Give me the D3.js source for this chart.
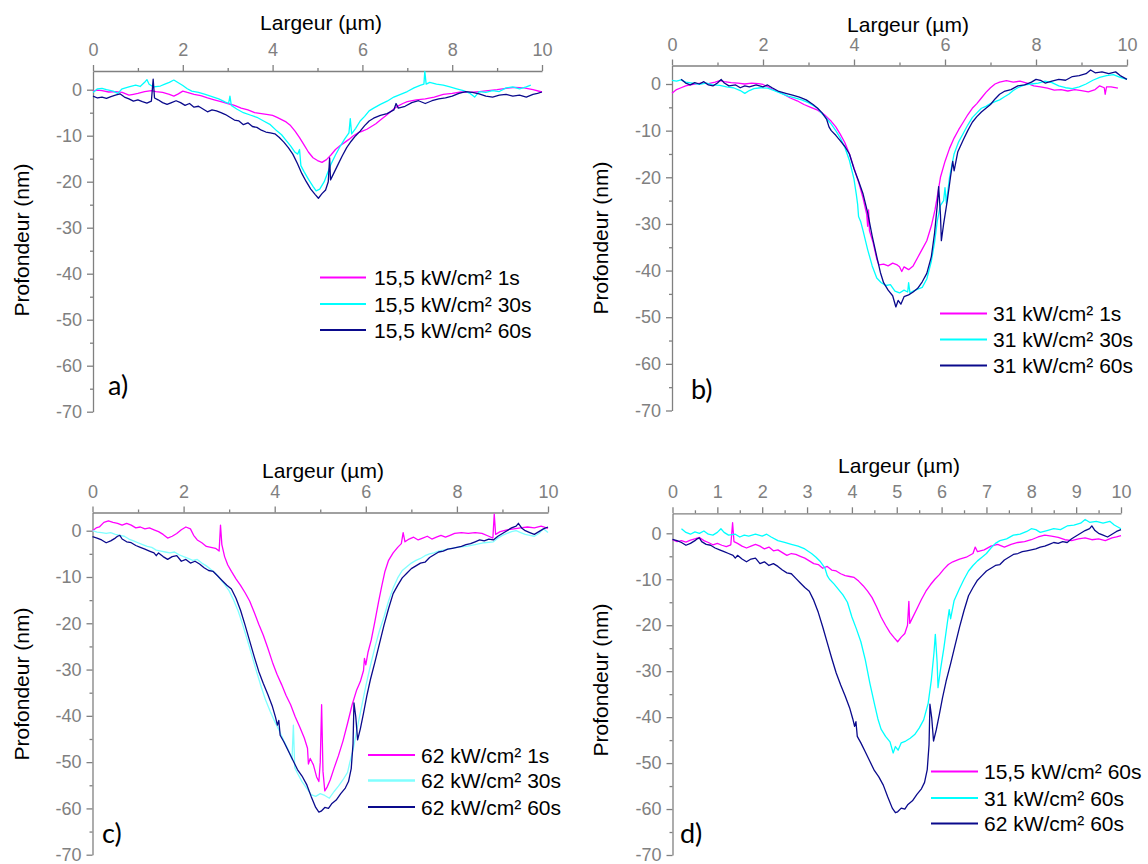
<!DOCTYPE html>
<html><head><meta charset="utf-8">
<script src="https://cdn.jsdelivr.net/npm/d3@7"></script>
<style>body{margin:0;background:#fff} svg{display:block}</style>
</head><body>
<svg id="chart" width="1148" height="864"></svg>
<script>
// ---------- DATA (x in µm, depth in nm) ----------
const xTicksCoarse = [0, 2, 4, 6, 8, 10];
const xMinorCoarse = [1, 3, 5, 7, 9];
const xTicksFine = [0, 1, 2, 3, 4, 5, 6, 7, 8, 9, 10];
const xMinorFine = [0.5, 1.5, 2.5, 3.5, 4.5, 5.5, 6.5, 7.5, 8.5, 9.5];
const yTicks = [0, -10, -20, -30, -40, -50, -60, -70];
const yMinor = [-5, -15, -25, -35, -45, -55, -65];

const labelsA = ["15,5 kW/cm² 1s", "15,5 kW/cm² 30s", "15,5 kW/cm² 60s"];
const labelsB = ["31 kW/cm² 1s", "31 kW/cm² 30s", "31 kW/cm² 60s"];
const labelsC = ["62 kW/cm² 1s", "62 kW/cm² 30s", "62 kW/cm² 60s"];
const labelsD = ["15,5 kW/cm² 60s", "31 kW/cm² 60s", "62 kW/cm² 60s"];

const a_1s = [[0,-0.3],[0.1,-0.1],[0.2,-0.2],[0.35,-0.5],[0.5,-0.4],[0.65,-0.6],[0.8,-1.2],[0.9,-1.0],[1.0,-0.8],[1.15,-0.4],[1.3,-0.2],[1.4,-0.4],[1.55,-0.6],[1.7,-1.0],[1.8,-1.4],[1.9,-0.9],[2.0,-0.3],[2.1,-0.6],[2.25,-1.0],[2.4,-1.3],[2.55,-1.8],[2.7,-2.2],[2.85,-2.6],[3.0,-3.0],[3.15,-3.4],[3.3,-4.0],[3.45,-4.4],[3.6,-5.0],[3.75,-5.2],[3.9,-5.4],[4.0,-5.6],[4.1,-6.0],[4.2,-6.5],[4.3,-7.0],[4.4,-7.8],[4.5,-9.0],[4.6,-10.4],[4.7,-12.0],[4.8,-13.6],[4.9,-14.8],[5.0,-15.4],[5.1,-15.8],[5.2,-15.2],[5.3,-14.2],[5.4,-13.0],[5.5,-12.2],[5.6,-11.5],[5.7,-10.8],[5.8,-10.0],[5.9,-9.4],[6.0,-9.0],[6.1,-8.6],[6.2,-8.0],[6.3,-7.4],[6.4,-6.6],[6.5,-5.8],[6.6,-5.0],[6.7,-4.2],[6.8,-3.5],[6.9,-3.0],[7.0,-2.6],[7.2,-2.2],[7.4,-2.0],[7.6,-1.6],[7.8,-1.0],[8.0,-0.8],[8.2,-0.5],[8.4,-0.6],[8.6,-0.4],[8.8,-0.2],[9.0,0.0],[9.2,0.3],[9.4,0.5],[9.6,0.4],[9.8,0.0],[10,-0.5]];
const a_30s = [[0,-0.6],[0.1,0.2],[0.2,0.3],[0.3,0.0],[0.45,-0.3],[0.55,-0.8],[0.65,0.2],[0.8,0.6],[0.95,1.0],[1.05,0.7],[1.15,1.6],[1.2,2.2],[1.25,1.2],[1.35,0.6],[1.5,0.8],[1.6,1.2],[1.7,1.6],[1.8,2.1],[1.9,1.5],[2.0,0.9],[2.1,0.2],[2.2,-0.3],[2.35,-0.6],[2.5,-1.0],[2.65,-1.5],[2.8,-2.0],[2.95,-2.7],[3.02,-3.0],[3.05,-1.4],[3.08,-3.4],[3.2,-4.2],[3.35,-5.0],[3.5,-5.5],[3.65,-6.0],[3.8,-6.8],[3.95,-7.6],[4.1,-9.0],[4.2,-9.8],[4.3,-11.0],[4.4,-12.2],[4.5,-13.6],[4.56,-14.0],[4.6,-13.0],[4.63,-16.5],[4.7,-17.8],[4.8,-19.5],[4.9,-21.0],[4.97,-22.0],[5.05,-21.6],[5.15,-20.0],[5.22,-18.2],[5.3,-16.2],[5.4,-14.2],[5.5,-12.4],[5.6,-10.8],[5.7,-9.4],[5.73,-6.3],[5.76,-9.6],[5.85,-8.4],[5.95,-6.8],[6.05,-5.8],[6.15,-4.6],[6.25,-4.0],[6.4,-3.2],[6.55,-2.5],[6.7,-1.6],[6.85,-1.0],[7.0,-0.4],[7.15,0.4],[7.3,1.0],[7.37,1.2],[7.39,4.0],[7.42,1.2],[7.5,1.6],[7.65,1.2],[7.8,1.0],[7.95,0.6],[8.1,0.2],[8.25,-0.2],[8.4,-0.8],[8.5,-1.6],[8.6,-0.4],[8.75,-0.6],[8.9,-0.2],[9.05,-0.4],[9.2,0.4],[9.35,0.6],[9.5,0.2],[9.65,0.6],[9.75,1.0]];
const a_60s = [[0,-1.4],[0.1,-1.8],[0.2,-1.6],[0.3,-1.9],[0.4,-1.5],[0.5,-1.2],[0.6,-0.9],[0.7,-1.6],[0.8,-2.0],[0.9,-2.5],[1.0,-2.2],[1.1,-2.6],[1.2,-2.9],[1.3,-2.5],[1.34,2.3],[1.37,-1.8],[1.45,-2.2],[1.55,-2.8],[1.65,-3.2],[1.75,-2.8],[1.85,-2.4],[1.95,-2.8],[2.05,-3.4],[2.15,-3.0],[2.25,-3.8],[2.35,-3.6],[2.45,-4.2],[2.55,-4.8],[2.65,-4.4],[2.75,-4.6],[2.85,-5.0],[2.95,-5.4],[3.05,-6.0],[3.15,-6.6],[3.25,-6.8],[3.35,-7.6],[3.45,-7.2],[3.55,-8.0],[3.65,-8.2],[3.75,-8.8],[3.85,-9.2],[3.95,-9.4],[4.05,-9.6],[4.15,-10.4],[4.25,-11.4],[4.35,-12.6],[4.45,-14.0],[4.55,-16.0],[4.65,-18.2],[4.75,-20.0],[4.85,-21.6],[4.95,-22.8],[5.02,-23.6],[5.1,-22.6],[5.18,-21.8],[5.24,-20.0],[5.27,-14.8],[5.29,-19.6],[5.35,-18.4],[5.45,-16.4],[5.55,-14.4],[5.65,-12.6],[5.75,-11.2],[5.85,-10.0],[5.95,-9.0],[6.05,-7.8],[6.15,-6.8],[6.25,-6.2],[6.4,-5.6],[6.55,-5.2],[6.7,-4.4],[6.75,-3.0],[6.8,-4.0],[6.95,-3.6],[7.1,-2.8],[7.25,-2.4],[7.4,-3.0],[7.55,-2.4],[7.7,-2.0],[7.85,-1.8],[8.0,-1.4],[8.15,-0.8],[8.3,-0.4],[8.45,-0.6],[8.6,-0.9],[8.75,-1.4],[8.9,-1.6],[9.05,-1.2],[9.2,-1.0],[9.35,-1.4],[9.5,-1.2],[9.65,-1.6],[9.8,-1.0],[9.9,-0.8],[10,-0.5]];

const b_1s = [[0,-2.0],[0.1,-1.2],[0.2,-0.8],[0.3,-0.4],[0.4,-0.2],[0.5,0.0],[0.65,0.2],[0.8,0.1],[0.95,0.4],[1.05,0.7],[1.15,0.5],[1.3,0.3],[1.45,0.2],[1.6,0.0],[1.75,0.2],[1.9,0.1],[2.0,-0.1],[2.15,-0.8],[2.3,-1.5],[2.45,-2.2],[2.6,-3.0],[2.75,-3.6],[2.9,-4.4],[3.05,-5.0],[3.2,-5.6],[3.35,-6.6],[3.5,-8.0],[3.6,-9.2],[3.7,-10.8],[3.8,-12.6],[3.9,-15.0],[4.0,-18.0],[4.1,-21.0],[4.2,-24.5],[4.28,-28.0],[4.3,-30.5],[4.32,-27.0],[4.34,-31.5],[4.42,-34.0],[4.5,-37.5],[4.55,-38.8],[4.65,-38.6],[4.75,-39.0],[4.85,-38.4],[4.95,-38.8],[5.0,-39.2],[5.05,-40.2],[5.1,-39.2],[5.2,-39.8],[5.3,-39.0],[5.4,-37.2],[5.5,-35.4],[5.6,-33.6],[5.7,-30.4],[5.78,-27.0],[5.85,-23.0],[5.9,-20.0],[6.0,-16.6],[6.1,-13.8],[6.2,-11.6],[6.3,-9.8],[6.4,-8.2],[6.5,-6.6],[6.6,-5.2],[6.7,-4.2],[6.8,-3.0],[6.9,-1.8],[7.0,-0.8],[7.1,0.0],[7.2,0.4],[7.35,0.7],[7.5,0.4],[7.65,0.6],[7.8,0.2],[7.95,-0.4],[8.1,-0.6],[8.25,-0.9],[8.4,-1.3],[8.55,-1.2],[8.7,-1.5],[8.85,-1.2],[9.0,-1.4],[9.15,-1.7],[9.3,-1.2],[9.4,-0.4],[9.5,-0.8],[9.52,-2.2],[9.55,-0.6],[9.65,-0.6],[9.8,-0.9]];
const b_30s = [[0,0.8],[0.1,0.6],[0.2,0.9],[0.3,0.4],[0.45,0.2],[0.6,-0.1],[0.75,0.2],[0.9,-0.2],[1.05,-0.3],[1.2,-0.6],[1.35,-0.8],[1.5,-1.4],[1.6,-2.0],[1.7,-1.4],[1.8,-1.0],[1.95,-0.8],[2.1,-0.9],[2.25,-1.4],[2.4,-2.0],[2.55,-2.6],[2.7,-3.0],[2.85,-3.4],[3.0,-4.0],[3.1,-4.6],[3.2,-5.2],[3.3,-6.4],[3.4,-7.4],[3.5,-8.6],[3.6,-10.0],[3.7,-11.6],[3.8,-13.6],[3.9,-16.4],[4.0,-20.4],[4.05,-23.6],[4.08,-25.8],[4.1,-28.4],[4.15,-29.6],[4.2,-31.5],[4.3,-35.5],[4.4,-39.0],[4.5,-41.6],[4.6,-42.6],[4.7,-43.2],[4.8,-43.0],[4.9,-44.4],[5.0,-44.8],[5.1,-44.2],[5.18,-44.6],[5.2,-42.6],[5.23,-44.8],[5.3,-44.4],[5.4,-44.0],[5.5,-43.6],[5.6,-41.8],[5.7,-38.0],[5.77,-34.0],[5.83,-29.4],[5.9,-26.0],[5.97,-25.0],[6.0,-22.2],[6.03,-25.6],[6.1,-20.0],[6.2,-15.0],[6.3,-12.4],[6.4,-10.6],[6.5,-8.8],[6.6,-7.2],[6.7,-6.2],[6.8,-5.2],[6.9,-4.8],[7.0,-4.2],[7.1,-3.8],[7.2,-3.4],[7.3,-2.8],[7.4,-2.2],[7.5,-1.4],[7.6,-0.8],[7.75,-0.2],[7.9,0.0],[8.05,0.2],[8.2,0.6],[8.35,0.3],[8.5,-0.4],[8.65,-0.8],[8.8,-1.0],[8.95,-0.6],[9.1,0.0],[9.25,0.8],[9.4,1.4],[9.55,1.8],[9.7,2.0],[9.85,1.4],[10,1.0]];
const b_60s = [[0.2,1.0],[0.3,0.2],[0.4,-0.2],[0.5,0.3],[0.6,0.0],[0.7,0.5],[0.8,-0.2],[0.9,-0.4],[1.0,0.2],[1.08,1.0],[1.15,0.2],[1.25,-0.4],[1.4,-0.2],[1.5,-0.8],[1.6,-0.4],[1.7,-0.6],[1.85,-0.2],[2.0,-0.6],[2.1,-0.2],[2.2,-0.8],[2.35,-1.6],[2.5,-2.0],[2.65,-2.4],[2.8,-2.8],[2.95,-3.4],[3.1,-4.4],[3.2,-5.2],[3.3,-6.2],[3.4,-7.6],[3.45,-9.2],[3.5,-10.0],[3.6,-11.0],[3.7,-12.2],[3.8,-13.4],[3.9,-15.0],[4.0,-18.2],[4.1,-20.8],[4.2,-23.6],[4.3,-27.6],[4.4,-32.6],[4.5,-37.0],[4.58,-40.4],[4.65,-42.6],[4.75,-44.2],[4.85,-45.4],[4.92,-47.8],[4.97,-46.4],[5.03,-47.2],[5.1,-45.6],[5.2,-45.2],[5.3,-44.6],[5.4,-43.8],[5.5,-42.4],[5.6,-40.6],[5.7,-37.0],[5.77,-32.0],[5.83,-26.0],[5.86,-22.0],[5.9,-28.0],[5.92,-33.6],[5.97,-30.0],[6.05,-25.0],[6.12,-20.0],[6.17,-16.6],[6.2,-18.6],[6.28,-14.6],[6.4,-12.0],[6.5,-10.0],[6.6,-8.2],[6.7,-7.0],[6.8,-6.0],[6.9,-5.2],[7.0,-4.4],[7.1,-3.2],[7.2,-2.2],[7.3,-1.6],[7.45,-1.2],[7.6,-0.4],[7.75,-0.2],[7.9,0.4],[8.0,1.0],[8.1,0.8],[8.2,0.2],[8.35,0.6],[8.5,1.0],[8.65,0.8],[8.8,1.6],[8.95,1.8],[9.1,2.2],[9.2,3.0],[9.3,2.4],[9.45,2.6],[9.6,2.2],[9.75,2.6],[9.85,1.8],[10,1.0]];

const c_1s = [[0,0.0],[0.08,0.6],[0.15,0.8],[0.25,1.8],[0.35,2.1],[0.45,1.8],[0.55,1.6],[0.65,1.2],[0.75,1.6],[0.85,1.2],[0.95,0.6],[1.05,0.8],[1.15,0.4],[1.25,0.6],[1.35,0.2],[1.45,-0.2],[1.55,-0.8],[1.65,-1.6],[1.75,-1.2],[1.85,-0.6],[1.95,0.2],[2.05,0.8],[2.15,0.4],[2.22,-1.0],[2.3,-2.0],[2.4,-2.6],[2.5,-3.4],[2.6,-3.6],[2.7,-3.8],[2.78,-4.4],[2.81,1.2],[2.84,-3.0],[2.9,-5.6],[2.97,-7.4],[3.05,-8.8],[3.15,-10.4],[3.25,-11.8],[3.35,-13.4],[3.45,-15.2],[3.55,-17.6],[3.65,-20.2],[3.75,-22.6],[3.85,-25.4],[3.95,-28.4],[4.05,-31.0],[4.15,-33.2],[4.25,-35.6],[4.35,-37.6],[4.45,-40.2],[4.55,-42.4],[4.65,-44.8],[4.72,-47.0],[4.74,-50.4],[4.78,-49.2],[4.85,-50.6],[4.92,-53.2],[4.97,-54.2],[5.0,-50.0],[5.03,-37.6],[5.06,-52.0],[5.1,-56.2],[5.15,-55.4],[5.22,-53.8],[5.3,-51.4],[5.4,-48.6],[5.5,-45.4],[5.6,-41.6],[5.7,-37.6],[5.8,-34.4],[5.88,-32.6],[5.95,-30.2],[5.97,-27.6],[6.0,-29.0],[6.05,-26.2],[6.12,-23.6],[6.2,-19.6],[6.28,-15.4],[6.35,-12.0],[6.42,-8.8],[6.5,-6.4],[6.6,-4.8],[6.7,-3.6],[6.78,-2.8],[6.82,-0.4],[6.86,-2.4],[6.95,-1.8],[7.05,-1.4],[7.15,-2.0],[7.25,-1.6],[7.35,-1.2],[7.45,-1.8],[7.55,-1.4],[7.65,-1.0],[7.75,-1.4],[7.85,-1.0],[7.95,-0.6],[8.1,-0.4],[8.25,-0.6],[8.4,-0.4],[8.55,-0.6],[8.7,-1.2],[8.79,-1.6],[8.82,3.6],[8.85,-0.8],[8.95,-0.2],[9.1,0.2],[9.25,0.4],[9.4,0.6],[9.55,0.8],[9.7,0.6],[9.85,1.0],[10,0.5]];
const c_30s = [[0,0.0],[0.1,-0.3],[0.2,-0.4],[0.3,-0.6],[0.4,-0.4],[0.5,-0.8],[0.6,-1.0],[0.7,-1.2],[0.8,-1.8],[0.9,-2.2],[1.0,-2.6],[1.1,-3.0],[1.2,-3.4],[1.3,-3.6],[1.4,-4.2],[1.5,-4.4],[1.6,-4.6],[1.7,-4.8],[1.8,-4.6],[1.9,-5.2],[2.0,-5.6],[2.1,-6.0],[2.2,-6.4],[2.3,-6.2],[2.4,-7.0],[2.5,-7.6],[2.6,-8.4],[2.7,-9.2],[2.8,-10.4],[2.9,-11.6],[3.0,-13.0],[3.1,-15.0],[3.2,-17.4],[3.3,-20.4],[3.4,-23.6],[3.5,-27.0],[3.6,-30.4],[3.7,-33.6],[3.8,-36.6],[3.9,-39.0],[4.0,-41.2],[4.1,-43.2],[4.2,-45.4],[4.3,-47.4],[4.38,-49.4],[4.41,-42.0],[4.44,-51.2],[4.5,-52.4],[4.6,-54.2],[4.7,-55.6],[4.8,-57.0],[4.9,-57.4],[5.0,-56.8],[5.1,-57.2],[5.2,-57.8],[5.3,-56.4],[5.4,-55.2],[5.5,-53.8],[5.6,-52.2],[5.65,-50.0],[5.72,-47.4],[5.8,-43.2],[5.9,-38.4],[6.0,-33.6],[6.1,-29.2],[6.2,-25.2],[6.3,-21.6],[6.4,-18.6],[6.5,-15.2],[6.6,-12.4],[6.7,-10.2],[6.8,-8.6],[6.9,-7.8],[7.0,-7.0],[7.1,-6.4],[7.2,-6.0],[7.3,-5.4],[7.4,-5.0],[7.5,-4.8],[7.6,-4.4],[7.7,-4.2],[7.8,-4.0],[8.0,-3.6],[8.2,-3.4],[8.4,-3.0],[8.6,-2.6],[8.8,-2.4],[8.9,-1.6],[9.0,-1.0],[9.1,-0.6],[9.2,-0.2],[9.3,0.0],[9.4,-0.4],[9.5,-0.8],[9.6,-1.0],[9.7,-1.2],[9.8,-0.6],[9.9,0.4],[10,-0.4]];
const c_60s = [[0,-1.3],[0.1,-1.6],[0.2,-2.0],[0.3,-2.6],[0.4,-2.2],[0.5,-1.6],[0.55,-1.2],[0.6,-1.0],[0.65,-1.8],[0.75,-2.4],[0.85,-2.6],[0.95,-3.2],[1.05,-3.6],[1.15,-4.0],[1.25,-4.4],[1.35,-4.8],[1.4,-5.4],[1.45,-4.8],[1.55,-5.6],[1.65,-6.2],[1.75,-5.6],[1.85,-5.4],[1.95,-6.6],[2.05,-6.2],[2.15,-7.0],[2.25,-6.6],[2.35,-7.2],[2.45,-8.0],[2.55,-8.6],[2.65,-8.8],[2.75,-9.8],[2.85,-10.8],[2.95,-11.8],[3.05,-12.6],[3.15,-14.6],[3.25,-17.2],[3.35,-20.4],[3.45,-23.8],[3.55,-27.2],[3.65,-30.4],[3.75,-33.0],[3.85,-35.4],[3.95,-38.0],[4.02,-40.4],[4.06,-42.0],[4.09,-41.0],[4.12,-44.2],[4.2,-45.6],[4.3,-47.6],[4.4,-49.6],[4.5,-51.6],[4.6,-53.0],[4.7,-54.8],[4.8,-57.4],[4.9,-59.8],[4.97,-60.8],[5.02,-60.6],[5.1,-59.8],[5.18,-60.0],[5.25,-59.0],[5.35,-58.2],[5.45,-56.8],[5.55,-55.6],[5.62,-54.2],[5.68,-51.4],[5.72,-46.0],[5.74,-37.2],[5.78,-40.2],[5.82,-45.2],[5.88,-42.8],[5.95,-39.4],[6.02,-35.8],[6.1,-32.2],[6.2,-28.4],[6.3,-24.4],[6.4,-20.4],[6.5,-16.8],[6.6,-13.6],[6.7,-11.8],[6.8,-10.2],[6.9,-9.2],[7.0,-8.2],[7.1,-7.6],[7.2,-7.0],[7.3,-6.8],[7.4,-5.8],[7.5,-5.2],[7.6,-4.6],[7.7,-4.4],[7.8,-4.0],[7.9,-3.8],[8.0,-3.6],[8.1,-3.4],[8.2,-3.0],[8.3,-2.8],[8.4,-2.4],[8.5,-2.0],[8.6,-2.2],[8.7,-1.8],[8.8,-2.0],[8.9,-1.2],[9.0,-0.6],[9.1,0.0],[9.2,0.6],[9.3,1.0],[9.35,1.6],[9.42,0.6],[9.5,0.0],[9.6,-0.4],[9.7,-0.8],[9.8,-0.2],[9.9,0.4],[10,0.8]];

// ---------- LAYOUT ----------
const MAG = "#ff00ff", CYA = "#00ffff", LCY = "#80ffff", NAV = "#0a0a8c";
const panels = [
  {x0:93, x1:542, yTop:71, yZero:89.7, yBot:411.7, ticks:xTicksCoarse, minor:xMinorCoarse,
   series:[a_1s,a_30s,a_60s], colors:[MAG,CYA,NAV], labels:labelsA,
   leg:{lx0:320, lx1:366, tx:374, ys:[277.5,304,330]}, title:{x:321, y:30}, ylab:{x:22, y:240}, letter:{t:"a)", x:108, y:395}},
  {x0:672, x1:1127, yTop:65.5, yZero:84, yBot:410.5, ticks:xTicksCoarse, minor:xMinorCoarse,
   series:[b_1s,b_30s,b_60s], colors:[MAG,CYA,NAV], labels:labelsB,
   leg:{lx0:940, lx1:987, tx:993, ys:[313.5,339.5,365.5]}, title:{x:908, y:31.5}, ylab:{x:601, y:238}, letter:{t:"b)", x:691, y:399}},
  {x0:92.5, x1:548, yTop:512.5, yZero:530.7, yBot:854.7, ticks:xTicksCoarse, minor:xMinorCoarse,
   series:[c_1s,c_30s,c_60s], colors:[MAG,LCY,NAV], labels:labelsC,
   leg:{lx0:368, lx1:415, tx:421, ys:[755,780.5,807]}, title:{x:323, y:478}, ylab:{x:22, y:684}, letter:{t:"c)", x:102, y:843}},
  {x0:672.5, x1:1121, yTop:513.3, yZero:533.3, yBot:855, ticks:xTicksFine, minor:xMinorFine,
   series:[a_60s,b_60s,c_60s], colors:[MAG,CYA,NAV], labels:labelsD,
   leg:{lx0:931, lx1:978, tx:984, ys:[771.5,798,823.5]}, title:{x:899, y:473}, ylab:{x:601, y:680}, letter:{t:"d)", x:680, y:843}}
];

const svg = d3.select("#chart");
svg.append("rect").attr("width",1148).attr("height",864).attr("fill","#fff");
const AX = "#808080";
const FONT = "'Liberation Sans', Arial, sans-serif";

panels.forEach(p => {
  const g = svg.append("g");
  const x = d3.scaleLinear().domain([0,10]).range([p.x0, p.x1]);
  const pxPerNm = (p.yBot - p.yZero) / 70;
  const yMax = (p.yZero - p.yTop) / pxPerNm;
  const y = d3.scaleLinear().domain([-70, yMax]).range([p.yBot, p.yTop]);

  // top x axis (major + minor)
  const xa = g.append("g").attr("transform",`translate(0,${p.yTop})`)
    .call(d3.axisTop(x).tickValues(p.ticks).tickSize(6).tickSizeOuter(0).tickPadding(9).tickFormat(d3.format("d")));
  g.append("g").attr("transform",`translate(0,${p.yTop})`)
    .call(d3.axisTop(x).tickValues(p.minor).tickSize(3).tickSizeOuter(0).tickFormat(""))
    .select(".domain").remove();
  // left y axis
  const ya = g.append("g").attr("transform",`translate(${p.x0},0)`)
    .call(d3.axisLeft(y).tickValues(yTicks).tickSize(6).tickSizeOuter(0).tickPadding(5).tickFormat(d => d3.format("d")(d).replace("−","-")));
  g.append("g").attr("transform",`translate(${p.x0},0)`)
    .call(d3.axisLeft(y).tickValues(yMinor).tickSize(3).tickSizeOuter(0).tickFormat(""))
    .select(".domain").remove();

  g.selectAll(".domain, .tick line").attr("stroke", AX).attr("stroke-width", 1.3);
  g.selectAll(".tick text").attr("fill", AX).attr("font-family", FONT).attr("font-size", 18);

  // series
  const line = d3.line().x(d => x(d[0])).y(d => y(d[1]));
  p.series.forEach((s, i) => {
    g.append("path").datum(s).attr("d", line).attr("fill","none")
      .attr("stroke", p.colors[i]).attr("stroke-width", 1.3).attr("stroke-linejoin","round");
  });

  // legend
  p.labels.forEach((lab, i) => {
    g.append("line").attr("x1", p.leg.lx0).attr("x2", p.leg.lx1)
      .attr("y1", p.leg.ys[i]).attr("y2", p.leg.ys[i])
      .attr("stroke", p.colors[i]).attr("stroke-width", p.colors[i] === LCY ? 2.6 : 1.8);
    g.append("text").attr("x", p.leg.tx).attr("y", p.leg.ys[i]).attr("dy","0.36em")
      .attr("font-family", FONT).attr("font-size", 21).attr("fill","#000").text(lab);
  });

  // titles
  g.append("text").attr("x", p.title.x).attr("y", p.title.y).attr("text-anchor","middle")
    .attr("font-family", FONT).attr("font-size", 21).attr("fill","#000").text("Largeur (µm)");
  g.append("text").attr("transform",`translate(${p.ylab.x},${p.ylab.y}) rotate(-90)`)
    .attr("text-anchor","middle").attr("dy","0.35em")
    .attr("font-family", FONT).attr("font-size", 21).attr("fill","#000").text("Profondeur (nm)");
  g.append("text").attr("x", p.letter.x).attr("y", p.letter.y)
    .attr("font-family", "Lato, 'Open Sans', sans-serif").attr("font-size", 27).attr("fill","#000").text(p.letter.t);
});
</script>
</body></html>
